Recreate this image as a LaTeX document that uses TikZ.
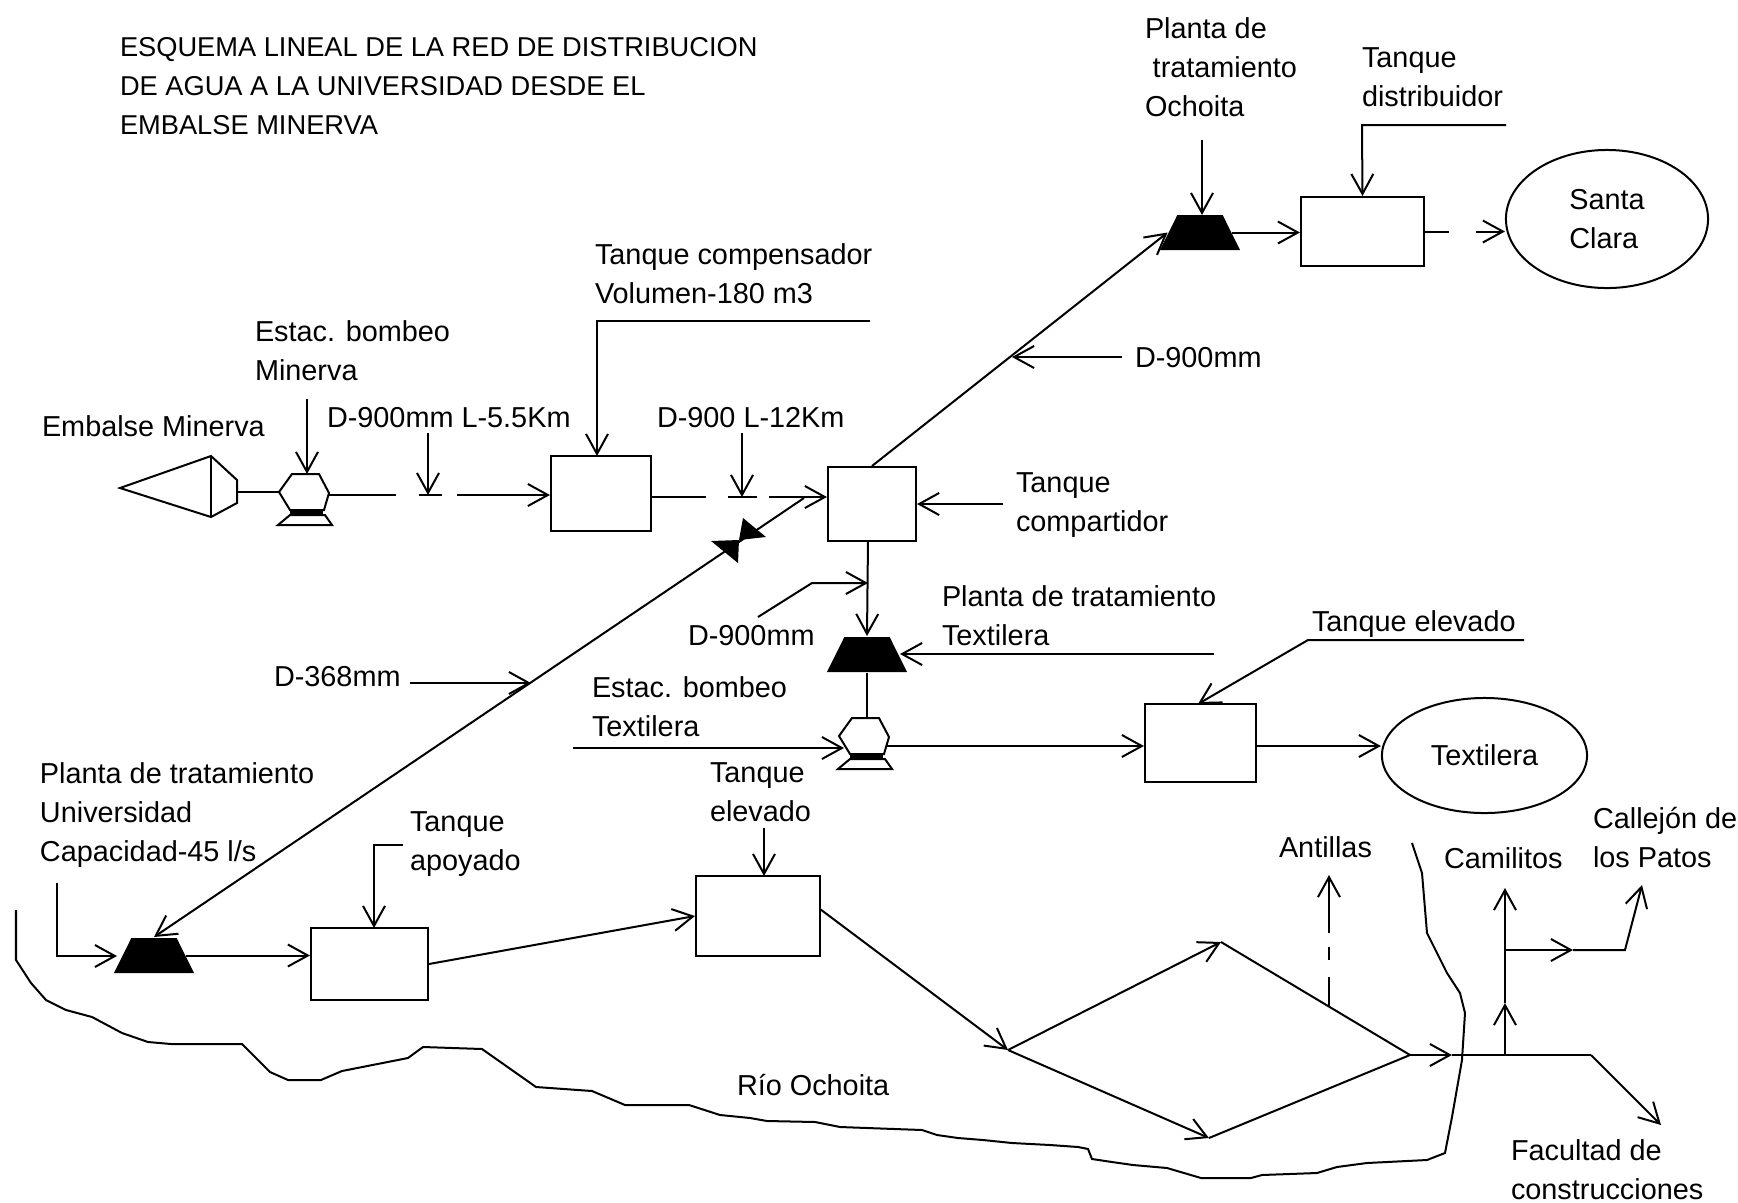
\documentclass[tikz,border=0pt]{standalone}
\usepackage{fontspec}
\setsansfont{Liberation Sans}
\usetikzlibrary{arrows.meta, shapes.geometric}

\begin{document}
\begin{tikzpicture}[
    x=0.01cm, y=-0.01cm,
    line width=0.2mm,
    >={Straight Barb[length=2mm,width=2.2mm]},
    every node/.style={font=\sffamily\fontsize{8.2}{11.1}\selectfont},
    lbl/.style={anchor=north west, align=left, inner sep=0pt},
    tankbox/.style={draw, rectangle, inner sep=0pt},
    zone/.style={draw, ellipse, align=left, inner sep=0pt},
    plant/.style={trapezium, trapezium left angle=69, trapezium right angle=69,
        trapezium stretches=true, fill=black, inner sep=1pt,
        minimum width=0.8cm, minimum height=0.35cm},
    pump/.pic={
        \draw (-13,-19) -- (14,-19) -- (24,0) -- (19,17) -- (-15,17) -- (-26,-1) -- cycle;
        \draw[line width=0.45mm] (-15,20) -- (18,20);
        \draw (-15,22) -- (20,22) -- (27,32) -- (-27,32) -- cycle;
        \coordinate (-in) at (-26,-1);
        \coordinate (-out) at (24,2);
        \coordinate (-top) at (2,-19);
        \coordinate (-inLow) at (-21,11);
        \coordinate (-outLow) at (21,9);
    },
    valve/.pic={
        \fill (0,0) -- (4,-22) -- (27,-3) -- cycle;
        \fill (0,0) -- (-28,1) -- (-1,23) -- cycle;
    },
]
\useasboundingbox (0,0) rectangle (1738,1202);

% === Title ===
\node[lbl, font=\sffamily\fontsize{7.75}{11.1}\selectfont] (title) at (119,36) {ESQUEMA LINEAL DE LA RED DE DISTRIBUCION\\DE AGUA A LA UNIVERSIDAD DESDE EL\\EMBALSE MINERVA};

% === Embalse and first pump ===
\draw (120,488) -- (211,456) -- (237,480) -- (237,503) -- (211,517) -- cycle;
\draw (211,456) -- (211,517);
\coordinate (embalseOut) at (237,492);
\node[lbl] (embalseTxt) at (41,415) {Embalse Minerva};
\pic (pumpM) at (305,493) {pump};
\node[lbl] (pumpMTxt) at (254,320) {Estac. bombeo\\Minerva};
\coordinate (pumpMFrom) at (307,399);
\draw (embalseOut) -- (pumpM-in);
\draw[->] (pumpMFrom) -- (pumpM-top);

% === Tanks on the main line ===
\node[tankbox, minimum width=1cm, minimum height=0.75cm] (tankComp) at (601,493.5) {};
\node[tankbox, minimum width=0.88cm, minimum height=0.74cm] (tankShare) at (872,504) {};
\node[lbl] (tankCompTxt) at (594,243) {Tanque compensador\\Volumen-180 m3};
\node[lbl] (tankShareTxt) at (1015,472) {Tanque\\compartidor};
\coordinate (tankCompFromA) at (870,321);
\coordinate (tankCompFromB) at (597,321);
\coordinate (tankCompTop) at (597,456);
\coordinate (tankShareFrom) at (1003,504);
\draw[->] (tankCompFromA) -- (tankCompFromB) -- (tankCompTop);
\draw[->] (tankShareFrom) -- (tankShare.east);
\node[lbl] (lengthATxt) at (326,406) {D-900mm L-5.5Km};
\node[lbl] (lengthBTxt) at (656,406) {D-900 L-12Km};
\coordinate (lengthAFrom) at (428,433);
\coordinate (lengthATo) at (428,495);
\coordinate (lengthBFrom) at (742,433);
\coordinate (lengthBTo) at (742,497);
\draw[->] (lengthAFrom) -- (lengthATo);
\draw[->] (lengthBFrom) -- (lengthBTo);
% Broken lines, with the label arrows falling into the gaps
\draw[->, dash pattern=on 6.7mm off 2.3mm on 2.3mm off 1.5mm on 20mm] (pumpM-out) -- (tankComp.west |- pumpM-out);
\draw[->, dash pattern=on 5.4mm off 2.2mm on 2.9mm off 1.2mm on 20mm] (tankComp.east |- lengthBTo) -- (tankShare.west |- lengthBTo);

% === Ochoita branch ===
\node[plant] (plantO) at (1200,232.5) {};
\node[tankbox, minimum width=1.23cm, minimum height=0.69cm] (tankDist) at (1362.5,231.5) {};
\node[zone, minimum width=2.02cm, minimum height=1.38cm] (santaClara) at (1607,219) {Santa\\Clara};
\node[lbl] (plantOTxt) at (1144,17) {Planta de\\\hspace*{2.2pt}tratamiento\\Ochoita};
\node[lbl] (tankDistTxt) at (1361,47) {Tanque\\distribuidor};
\node[lbl] (diamOTxt) at (1134,346) {D-900mm};
\coordinate (plantOFrom) at (1202,140);
\coordinate (plantOTop) at (1202,215);
\coordinate (tankDistFromA) at (1506,125);
\coordinate (tankDistFromB) at (1362,125);
\coordinate (diamOFrom) at (1122,357);
\coordinate (diamOTo) at (1012,357);
\draw[->] (tankShare.north) -- (plantO.west);
\draw[->] (plantOFrom) -- (plantOTop);
\draw[->] (plantO.east) -- (tankDist.west |- plantO.east);
\draw[->] (tankDistFromA) -- (tankDistFromB) -- (tankDist.north);
\draw[->, dash pattern=on 2.4mm off 2.7mm on 20mm] (tankDist.east) -- (santaClara.west |- tankDist.east);
\draw[->] (diamOFrom) -- (diamOTo);

% === Textilera branch ===
\coordinate (shareOut) at (868,541);
\coordinate (diamTBend) at (812,583);
\coordinate (diamTFrom) at (758,617);
\coordinate (diamTTo) at (868,583);
\node[plant] (plantT) at (867,654.5) {};
\pic (pumpT) at (865,737) {pump};
\node[tankbox, minimum width=1.11cm, minimum height=0.78cm] (tankElevT) at (1200.5,743) {};
\node[zone, minimum width=2.05cm, minimum height=1.15cm] (textilera) at (1484.5,755.5) {Textilera};
\node[lbl] (diamTTxt) at (687,624) {D-900mm};
\node[lbl] (plantTTxt) at (941,585) {Planta de tratamiento\\Textilera};
\node[lbl] (pumpTTxt) at (591,676) {Estac. bombeo\\Textilera};
\node[lbl] (tankElevTTxt) at (1311,610) {Tanque elevado};
\coordinate (plantTFrom) at (1214,654);
\coordinate (plantTTo) at (900,654);
\coordinate (pumpTFrom) at (573,748);
\coordinate (tankElevTFromA) at (1524,640);
\coordinate (tankElevTFromB) at (1308,640);
\coordinate (tankElevTTo) at (1198,704);
\draw[->] (shareOut) -- (plantT.north);
\draw[->] (diamTFrom) -- (diamTBend) -- (diamTTo);
\draw[->] (plantTFrom) -- (plantTTo);
\draw (plantT.south) -- (pumpT-top);
\draw[->] (pumpTFrom) -- (pumpT-inLow);
\draw[->] (pumpT-outLow) -- (tankElevT.west |- pumpT-outLow);
\draw[->] (tankElevTFromA) -- (tankElevTFromB) -- (tankElevTTo);
\draw[->] (tankElevT.east |- pumpT-outLow) -- (textilera.west |- pumpT-outLow);

% === Line down to the university ===
\node[plant] (plantU) at (154,955.5) {};
\coordinate (mainJoin) at (804,498);
\coordinate (diamUFrom) at (410,683);
\coordinate (diamUTo) at (531,683);
\node[lbl] (diamUTxt) at (273,665) {D-368mm};
\pic (valveMain) at (739,540) {valve};
\draw[->] (mainJoin) -- (plantU.north);
\draw[->] (diamUFrom) -- (diamUTo);

% === University plant and tanks ===
\node[tankbox, minimum width=1.17cm, minimum height=0.72cm] (tankApoy) at (369.5,964) {};
\node[tankbox, minimum width=1.24cm, minimum height=0.8cm] (tankElevU) at (758,916) {};
\node[lbl] (plantUTxt) at (39,762) {Planta de tratamiento\\Universidad\\Capacidad-45 l/s};
\node[lbl] (tankApoyTxt) at (409,811) {Tanque\\apoyado};
\node[lbl] (tankElevUTxt) at (709,762) {Tanque\\elevado};
\coordinate (plantUFromA) at (57,883);
\coordinate (plantUFromB) at (57,956);
\coordinate (plantUTo) at (117,956);
\coordinate (tankApoyFromA) at (403,845);
\coordinate (tankApoyFromB) at (374,845);
\coordinate (tankApoyTop) at (374,928);
\coordinate (tankElevUFrom) at (764,828);
\coordinate (tankElevUTop) at (764,876);
\draw[->] (plantUFromA) -- (plantUFromB) -- (plantUTo);
\draw[->] (plantU.east) -- (tankApoy.west |- plantU.east);
\draw[->] (tankApoyFromA) -- (tankApoyFromB) -- (tankApoyTop);
\draw[->] (tankElevUFrom) -- (tankElevUTop);
\draw[->] (tankApoy.east) -- (tankElevU.west);

% === Distribution loop ===
\coordinate (loopW) at (1008,1050);
\coordinate (loopN) at (1221,942);
\coordinate (loopS) at (1209,1138);
\coordinate (loopE) at (1410,1055);
\coordinate (loopOut) at (1452,1055);
\coordinate (branchK) at (1505,1055);
\coordinate (branchKMid) at (1505,1003);
\coordinate (branchKTop) at (1505,888);
\coordinate (branchP) at (1505,950);
\coordinate (branchPMid) at (1573,950);
\coordinate (branchPBend) at (1625,950);
\coordinate (branchPTop) at (1642,885);
\coordinate (branchF) at (1591,1055);
\coordinate (branchFEnd) at (1661,1125);
\coordinate (branchA) at (1329,1007);
\coordinate (branchATop) at (1329,875);
\coordinate (elevUOut) at (820,909);
\draw[->] (elevUOut) -- (loopW);
\draw[->] (loopW) -- (loopN);
\draw (loopN) -- (loopE);
\draw[->] (loopW) -- (loopS);
\draw (loopS) -- (loopE);
\draw[->] (loopE) -- (loopOut);
\draw (loopOut) -- (branchF);
\draw[->] (branchF) -- (branchFEnd);
\draw[->] (branchK) -- (branchKMid);
\draw[->] (branchKMid) -- (branchKTop);
\draw[->] (branchP) -- (branchPMid);
\draw[->] (branchPMid) -- (branchPBend) -- (branchPTop);
\draw[->, dash pattern=on 3mm off 1.7mm on 1.3mm off 1.4mm on 20mm] (branchA) -- (branchATop);
\node[lbl] (antillasTxt) at (1278,836) {Antillas};
\node[lbl] (camilitosTxt) at (1443,847) {Camilitos};
\node[lbl] (callejonTxt) at (1592,806) {Callejón de\\los Patos};
\node[lbl] (facultadTxt) at (1510,1139) {Facultad de\\construcciones};

% === River ===
\draw (16,910) -- (16,960) -- (31,983) -- (46,1000) -- (66,1010) -- (92,1017) -- (122,1033)
    -- (148,1042) -- (171,1044) -- (242,1044) -- (270,1072) -- (288,1080) -- (321,1080)
    -- (342,1071) -- (408,1058) -- (423,1047) -- (482,1049) -- (536,1087) -- (592,1091)
    -- (625,1105) -- (689,1105) -- (720,1115) -- (750,1118) -- (767,1121) -- (815,1122)
    -- (840,1127) -- (867,1128) -- (922,1130) -- (937,1135) -- (958,1138) -- (983,1140)
    -- (1012,1143) -- (1050,1145) -- (1078,1147) -- (1088,1149) -- (1092,1159) -- (1112,1162)
    -- (1133,1165) -- (1167,1168) -- (1201,1178) -- (1251,1178)
    -- (1262,1175) -- (1317,1173) -- (1337,1167) -- (1367,1163) -- (1427,1160) -- (1445,1153)
    -- (1452,1117) -- (1462,1060) -- (1465,1013) -- (1460,993) -- (1447,973) -- (1427,933)
    -- (1422,873) -- (1412,843);
\node[lbl] (rioTxt) at (736,1073) {Río Ochoita};

\end{tikzpicture}
\end{document}
